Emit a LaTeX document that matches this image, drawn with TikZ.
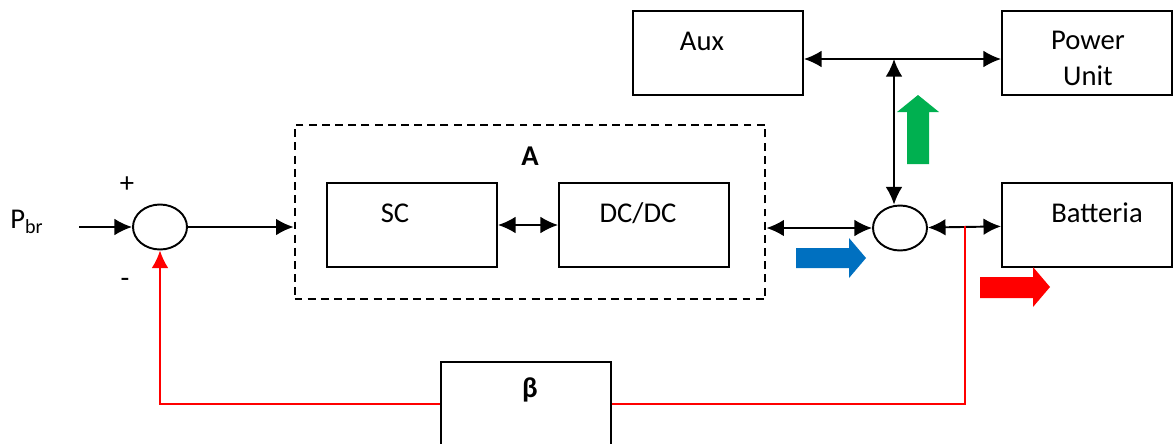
\documentclass[tikz,border=0pt]{standalone}
\usepackage{fontspec}
\setmainfont{Carlito}
\usetikzlibrary{arrows.meta,shapes.geometric}
\definecolor{upgreen}{RGB}{0,176,80}
\definecolor{flowblue}{RGB}{0,112,192}

\begin{document}
\begin{tikzpicture}[x=0.02cm, y=-0.02cm, line width=1.1pt,
	font=\fontsize{16.3}{20.5}\selectfont, >={Latex[length=10pt,width=9.5pt]},
	blk/.style={draw, minimum width=3.4cm, minimum height=1.68cm, inner sep=0},
	sum/.style={draw, ellipse, minimum width=1.08cm, minimum height=0.9cm, inner sep=0},
	l/.style={inner sep=0},
	fb/.style={red}]
	\useasboundingbox (0,0) rectangle (1173,443);

	% blocks
	\node[blk] (aux) at (718,53) {};
	\node[blk] (pu) at (1087,53) {};
	\node[draw, dash pattern=on 4.5pt off 3pt, minimum width=9.42cm, minimum height=3.48cm] (A) at (530,212) {};
	\node[blk] (sc) at (412,225) {};
	\node[blk] (dcdc) at (644,225) {};
	\node[blk] (bat) at (1087,225) {};
	\node[blk] (beta) at (526,404) {};
	\node[sum] (sum1) at (160,227) {};
	\node[sum] (sum2) at (900,228) {};

	% texts
	\node[l] (aux-t) at (702,41) {Aux};
	\node[l, align=center] (pu-t) at (1088,58) {Power\\Unit};
	\node[l] (A-t) at (530,156) {\textbf{A}};
	\node[l] (sc-t) at (395,213) {SC};
	\node[l] (dcdc-t) at (638,213) {DC/DC};
	\node[l] (bat-t) at (1097,213) {Batteria};
	\node[l] (beta-t) at (530,390) {\textbf{β}};
	\node[l] (pbr-t) at (27,222) {P\textsubscript{br}};
	\node[l] (plus) at (127,185) {+};
	\node[l] (minus) at (125,283) {-};

	% connectors
	\coordinate (in) at (79,227);
	\coordinate (bus) at (894,59);
	\coordinate (tap) at (965,226);
	\draw[->] (in) -- (sum1.west);
	\draw[->] (sum1.east) -- (sum1.east -| A.west);
	\draw[<->] (sc) -- (dcdc);
	\draw[<->] (A.east |- sum2) -- (sum2.west);
	\draw[<->] (sum2) -- (bat);
	\draw[<->] (aux.east |- bus) -- (pu.west |- bus);
	\draw[<->] (bus) -- (bus |- sum2.north);
	\draw[fb] (tap) |- (beta.east);
	\draw[fb, ->] (beta.west) -| (sum1.south);

	% power flow arrows
	\fill[upgreen] (907,164) -- (907,112) -- (897,112) -- (918,95) -- (939,112) -- (929,112) -- (929,164) -- cycle;
	\fill[flowblue] (796,248) -- (849,248) -- (849,238) -- (866,258) -- (849,278) -- (849,268) -- (796,268) -- cycle;
	\fill[red] (980,277) -- (1033,277) -- (1033,267) -- (1050,287) -- (1033,307) -- (1033,298) -- (980,298) -- cycle;
\end{tikzpicture}
\end{document}
